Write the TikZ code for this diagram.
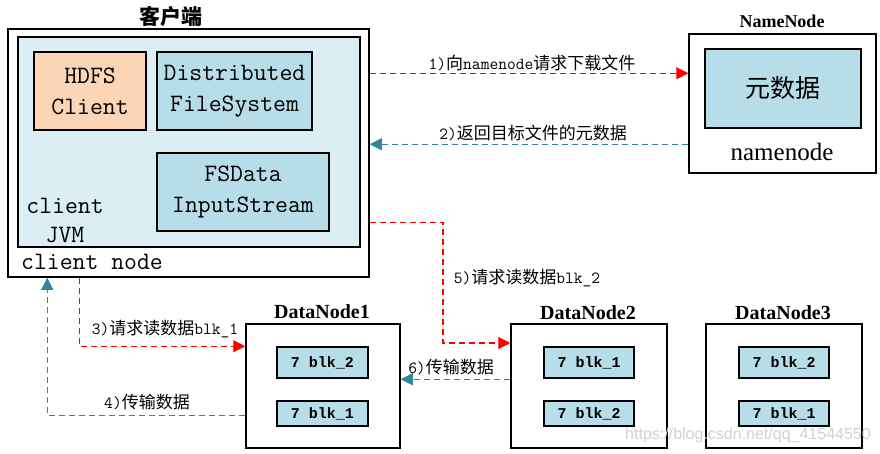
\documentclass[tikz,border=0pt]{standalone}
\usepackage{fontspec}
\newfontfamily\cjk{Noto Sans CJK SC}
\newfontfamily\tnr{Liberation Serif}
\newfontfamily\cour{Liberation Mono}
\newfontfamily\wmfont{Liberation Sans}
\usetikzlibrary{arrows.meta,calc}
\definecolor{jvmfill}{HTML}{DAEEF3}
\definecolor{boxfill}{HTML}{B7DDE8}
\definecolor{peach}{HTML}{FBD5B5}
\definecolor{tealc}{HTML}{31859C}
\definecolor{redc}{HTML}{FF0000}
\begin{document}
\begin{tikzpicture}[x=1pt,y=-1pt,
  frame/.style={draw=black, line width=1.5pt, inner sep=0pt, fill=white},
  inbox/.style={draw=black, line width=1.3pt, inner sep=0pt, fill=boxfill, align=center},
  ttbig/.style={font=\fontsize{25}{31}\selectfont\ttfamily},
  blkbox/.style={inbox, minimum height=#1, font=\fontsize{15}{18}\selectfont\cour\bfseries},
  title/.style={inner sep=0pt, font=\fontsize{20}{24}\selectfont\tnr\bfseries},
  lab/.style={inner sep=0pt, font=\fontsize{17}{20}\selectfont},
  reddash/.style={draw=redc, line width=1.1pt, dash pattern=on 6pt off 4pt, -{Triangle[length=12pt,width=12pt,fill=redc]}},
  tealdash/.style={draw=tealc, line width=1.1pt, dash pattern=on 6pt off 4pt, -{Triangle[length=12pt,width=12pt,fill=tealc]}}
]
\useasboundingbox (0,0) rectangle (880,454);
\fill[white] (0,0) rectangle (880,454);

% client side
\node[frame, minimum width=361pt, minimum height=248pt] (client) at (188.5,153) {};
\node[draw=black, line width=1.3pt, fill=jvmfill, inner sep=0pt, minimum width=342pt, minimum height=210pt] (jvm) at (189,142) {};
\node[inbox, fill=peach, ttbig, minimum width=112pt, minimum height=78pt] (hdfs) at (90,91) {HDFS\\Client};
\node[inbox, ttbig, minimum width=155pt, minimum height=78pt] (dfs) at (234.5,91) {Distributed\\FileSystem};
\node[inbox, ttbig, minimum width=172pt, minimum height=78pt] (fsd) at (243,192) {FSData\\InputStream};
\node[inner sep=0pt, align=center, font=\fontsize{25}{29}\selectfont\ttfamily] (jvmlab) at (65,221) {client\\JVM};
\node[inner sep=0pt, anchor=west, font=\fontsize{25}{29}\selectfont\ttfamily] (cnlab) at (21,262) {client node};
\node[inner sep=0pt, font=\fontsize{21}{24}\selectfont\cjk\bfseries] (ctitle) at (171,16) {客户端};

% namenode
\node[frame, minimum width=187pt, minimum height=139pt] (nn) at (782.5,103.5) {};
\node[inbox, minimum width=156pt, minimum height=79pt, font=\fontsize{25}{30}\selectfont\cjk] (meta) at (783,88.5) {元数据};
\node[inner sep=0pt, font=\fontsize{25}{30}\selectfont\tnr] (nnlab) at (782,152) {namenode};
\node[title, font=\fontsize{18}{22}\selectfont\tnr\bfseries] (nntitle) at (782,21) {NameNode};

% datanodes
\node[frame, minimum width=154pt, minimum height=124pt] (dn1) at (323,386) {};
\node[frame, minimum width=156pt, minimum height=124pt] (dn2) at (589,386) {};
\node[frame, minimum width=156pt, minimum height=124pt] (dn3) at (784,386) {};
\node[title] (dn1t) at (322,312) {DataNode1};
\node[title] (dn2t) at (588,313) {DataNode2};
\node[title] (dn3t) at (783,313) {DataNode3};

\node[blkbox=31pt, minimum width=91pt] (d1a) at (322.5,362.5) {7 blk\_2};
\node[blkbox=25pt, minimum width=91pt] (d1b) at (322.5,413.5) {7 blk\_1};
\node[blkbox=31pt, minimum width=90pt] (d2a) at (589,362.5) {7 blk\_1};
\node[blkbox=25pt, minimum width=90pt] (d2b) at (589,413.5) {7 blk\_2};
\node[blkbox=31pt, minimum width=90pt] (d3a) at (784,362.5) {7 blk\_2};
\node[blkbox=25pt, minimum width=90pt] (d3b) at (784,413.5) {7 blk\_1};

% connectors
\draw[reddash] ([yshift=-45pt]client.north east) -- ([yshift=-45pt]client.north east -| nn.west);
\draw[tealdash] ([yshift=-111pt]nn.north west) -- ([yshift=-111pt]nn.north west -| client.east);
\draw[reddash] ([xshift=72pt]client.south west) |- ([yshift=-23pt]dn1.north west);
\draw[tealdash] ([yshift=-92pt]dn1.north west) -| ([xshift=40pt]client.south west);
\coordinate (b5) at (443,343);
\draw[reddash] ([yshift=-194pt]client.north east) -| (b5) -- (b5 -| dn2.west);
\draw[tealdash] ([yshift=-56pt]dn2.north west) -- ([yshift=-56pt]dn2.north west -| dn1.east);

% labels
\node[lab] (l1) at (532,63) {\ttfamily 1)\cjk 向\ttfamily namenode\cjk 请求下载文件};
\node[lab] (l2) at (533,133) {\ttfamily 2)\cjk 返回目标文件的元数据};
\node[lab] (l3) at (165,329) {\ttfamily 3)\cjk 请求读数据\ttfamily blk\_1};
\node[lab] (l4) at (147,402) {\ttfamily 4)\cjk 传输数据};
\node[lab] (l5) at (527,278) {\ttfamily 5)\cjk 请求读数据\ttfamily blk\_2};
\node[lab] (l6) at (451,367) {\ttfamily 6)\cjk 传输数据};

% watermark
\node[inner sep=0pt, text=black!18, font=\fontsize{16}{18}\selectfont\wmfont] (wm) at (748,435) {https://blog.csdn.net/qq\_41544550};
\end{tikzpicture}
\end{document}
